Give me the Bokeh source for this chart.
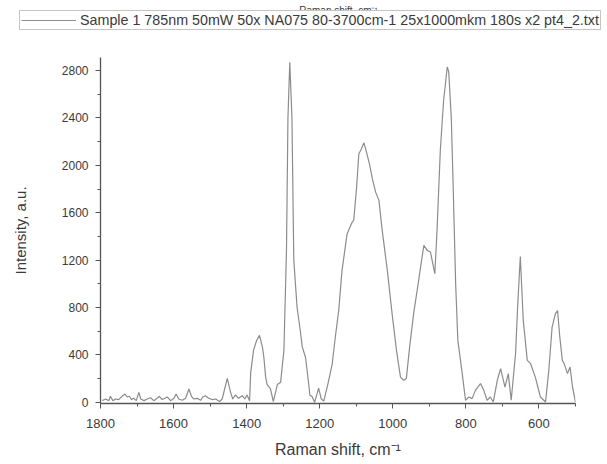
from bokeh.plotting import figure
from bokeh.models import Range1d, FixedTicker, Legend, LegendItem, Label
from bokeh.layouts import column
from bokeh.embed import file_html
from bokeh.resources import INLINE

# Raman spectrum
shift = [1795, 1786, 1777, 1773, 1766, 1759, 1750, 1741, 1733, 1727, 1721, 1715, 1709, 1702,
         1695, 1690, 1681, 1672, 1663, 1654, 1645, 1639, 1631, 1624, 1617, 1608, 1599, 1593,
         1586, 1576, 1567, 1558, 1551, 1545, 1535, 1526, 1520, 1513, 1504, 1494, 1485, 1474,
         1467, 1453, 1444, 1438, 1431, 1422, 1412, 1405, 1399, 1392, 1389, 1381, 1373, 1365,
         1357, 1353, 1348, 1344, 1335, 1327, 1316, 1307, 1298, 1291, 1287, 1282, 1276, 1271,
         1262, 1253, 1248, 1239, 1230, 1227, 1221, 1214, 1203, 1196, 1189, 1178, 1166, 1157,
         1148, 1139, 1125, 1111, 1107, 1099, 1093, 1087, 1079, 1072, 1064, 1056, 1047, 1038,
         1029, 1015, 1002, 990, 979, 970, 963, 954, 943, 932, 924, 915, 906, 897, 885, 879,
         870, 861, 851, 847, 840, 835, 828, 822, 810, 801, 792, 783, 774, 760, 751, 742, 733,
         725, 714, 705, 693, 684, 676, 664, 658, 651, 643, 632, 623, 610, 596, 582, 573, 564,
         555, 549, 543, 536, 531, 522, 515, 508, 500]
intensity = [14, 28, 14, 51, 14, 28, 23, 51, 70, 45, 51, 23, 34, 14, 84, 28, 14, 28, 39, 14,
             34, 51, 23, 34, 45, 14, 34, 70, 28, 17, 34, 112, 51, 28, 34, 17, 45, 56, 34, 23,
             28, 6, 28, 202, 84, 28, 62, 34, 56, 28, 62, 14, 250, 440, 520, 565,
             470, 382, 213, 150, 115, 5, 150, 170, 440, 1280, 2400, 2870, 2400, 1200,
             800, 600, 470, 380, 150, 60, 50, 0, 120, 30, 10, 150, 320, 560,
             776, 1113, 1423, 1521, 1535, 1816, 2097, 2131, 2190, 2111, 2013, 1887, 1774, 1704,
             1451, 1113, 748, 439, 213, 186, 200, 466, 748, 972, 1141, 1324, 1282, 1268, 1085, 1450,
             2125, 2547, 2830, 2790, 2406, 1845, 1001, 523, 242, 17, 45, 31, 101, 158, 101, 17, 45,
             3, 186, 284, 129, 242, 17, 413, 832, 1230, 692, 354, 326, 213, 45, 3, 270, 635,
             748, 775, 551, 354, 326, 242, 298, 129, 0]

x_major = [1800, 1600, 1400, 1200, 1000, 800, 600]
x_minor = [1700, 1500, 1300, 1100, 900, 700, 500]
y_major = [0, 400, 800, 1200, 1600, 2000, 2400, 2800]
y_minor = [200, 600, 1000, 1400, 1800, 2200, 2600]

legend_text = "Sample 1 785nm 50mW 50x NA075 80-3700cm-1 25x1000mkm 180s x2 pt4_2.txt"
x_title = "Raman shift, cm\u207b\u00b9"
y_title = "Intensity, a.u."

FONT = "Liberation Sans"
TXT = "#3a3a3a"
AX = "#555555"
LINE = "#8c8c8c"
TOP_H = 36

# ---- header strip: legend box and the (top) axis title ----
top = figure(width=607, height=TOP_H, output_backend="svg", toolbar_location=None,
             x_range=Range1d(0, 1), y_range=Range1d(0, 1),
             x_axis_location=None, y_axis_location=None,
             min_border_left=0, min_border_right=0, min_border_top=0, min_border_bottom=0)
top.frame_align = False
top.xgrid.visible = False
top.ygrid.visible = False
top.outline_line_color = None
top.background_fill_color = "white"
# same series, lying outside this strip's ranges: it only feeds the legend key
key = top.line(shift, intensity, line_color=LINE, line_width=1.2)
legend = Legend(items=[LegendItem(label=legend_text, renderers=[key])],
                location=(19, 6), margin=0, padding=1, spacing=0,
                glyph_width=55, glyph_height=14, label_height=14, label_standoff=4,
                label_text_font=FONT, label_text_font_size="14.3px", label_text_color=TXT,
                border_line_color="#8a8a8a", border_line_width=1,
                background_fill_color="white", background_fill_alpha=1)
top.add_layout(legend)
top.add_layout(Label(x=338, y=TOP_H - 10, x_units="screen", y_units="screen", text=x_title,
                     text_align="center", text_baseline="alphabetic", text_font=FONT,
                     text_font_size="10px", text_color=TXT))

# ---- main spectrum ----
p = figure(width=607, height=464 - TOP_H, output_backend="svg", toolbar_location=None,
           x_range=Range1d(1800, 500), y_range=Range1d(-10, 2910),
           min_border_left=100, min_border_right=32, min_border_top=57 - TOP_H,
           min_border_bottom=61)
p.outline_line_color = None
p.xgrid.visible = False
p.ygrid.visible = False
p.background_fill_color = "white"

p.line(shift, intensity, line_color=LINE, line_width=1.2)

for ax, maj, mnr in ((p.xaxis[0], x_major, x_minor), (p.yaxis[0], y_major, y_minor)):
    ax.ticker = FixedTicker(ticks=maj, minor_ticks=mnr)
    ax.axis_line_color = AX
    ax.axis_line_width = 1.3
    ax.major_tick_line_color = AX
    ax.minor_tick_line_color = AX
    ax.major_tick_out = 5
    ax.major_tick_in = 0
    ax.minor_tick_out = 3
    ax.minor_tick_in = 0
    ax.major_label_text_font = FONT
    ax.major_label_text_color = TXT
    ax.axis_label_text_font = FONT
    ax.axis_label_text_color = TXT
    ax.axis_label_text_font_style = "normal"

p.xaxis[0].major_label_text_font_size = "13px"
p.yaxis[0].major_label_text_font_size = "12px"
p.xaxis[0].axis_label = x_title
p.xaxis[0].axis_label_text_font_size = "16px"
p.xaxis[0].major_label_standoff = 10
p.xaxis[0].axis_label_standoff = 10
p.yaxis[0].axis_label = y_title
p.yaxis[0].axis_label_text_font_size = "15px"
p.yaxis[0].major_label_standoff = 7
p.yaxis[0].axis_label_standoff = 30

open("out.html", "w").write(file_html(column(top, p, spacing=0), INLINE))
